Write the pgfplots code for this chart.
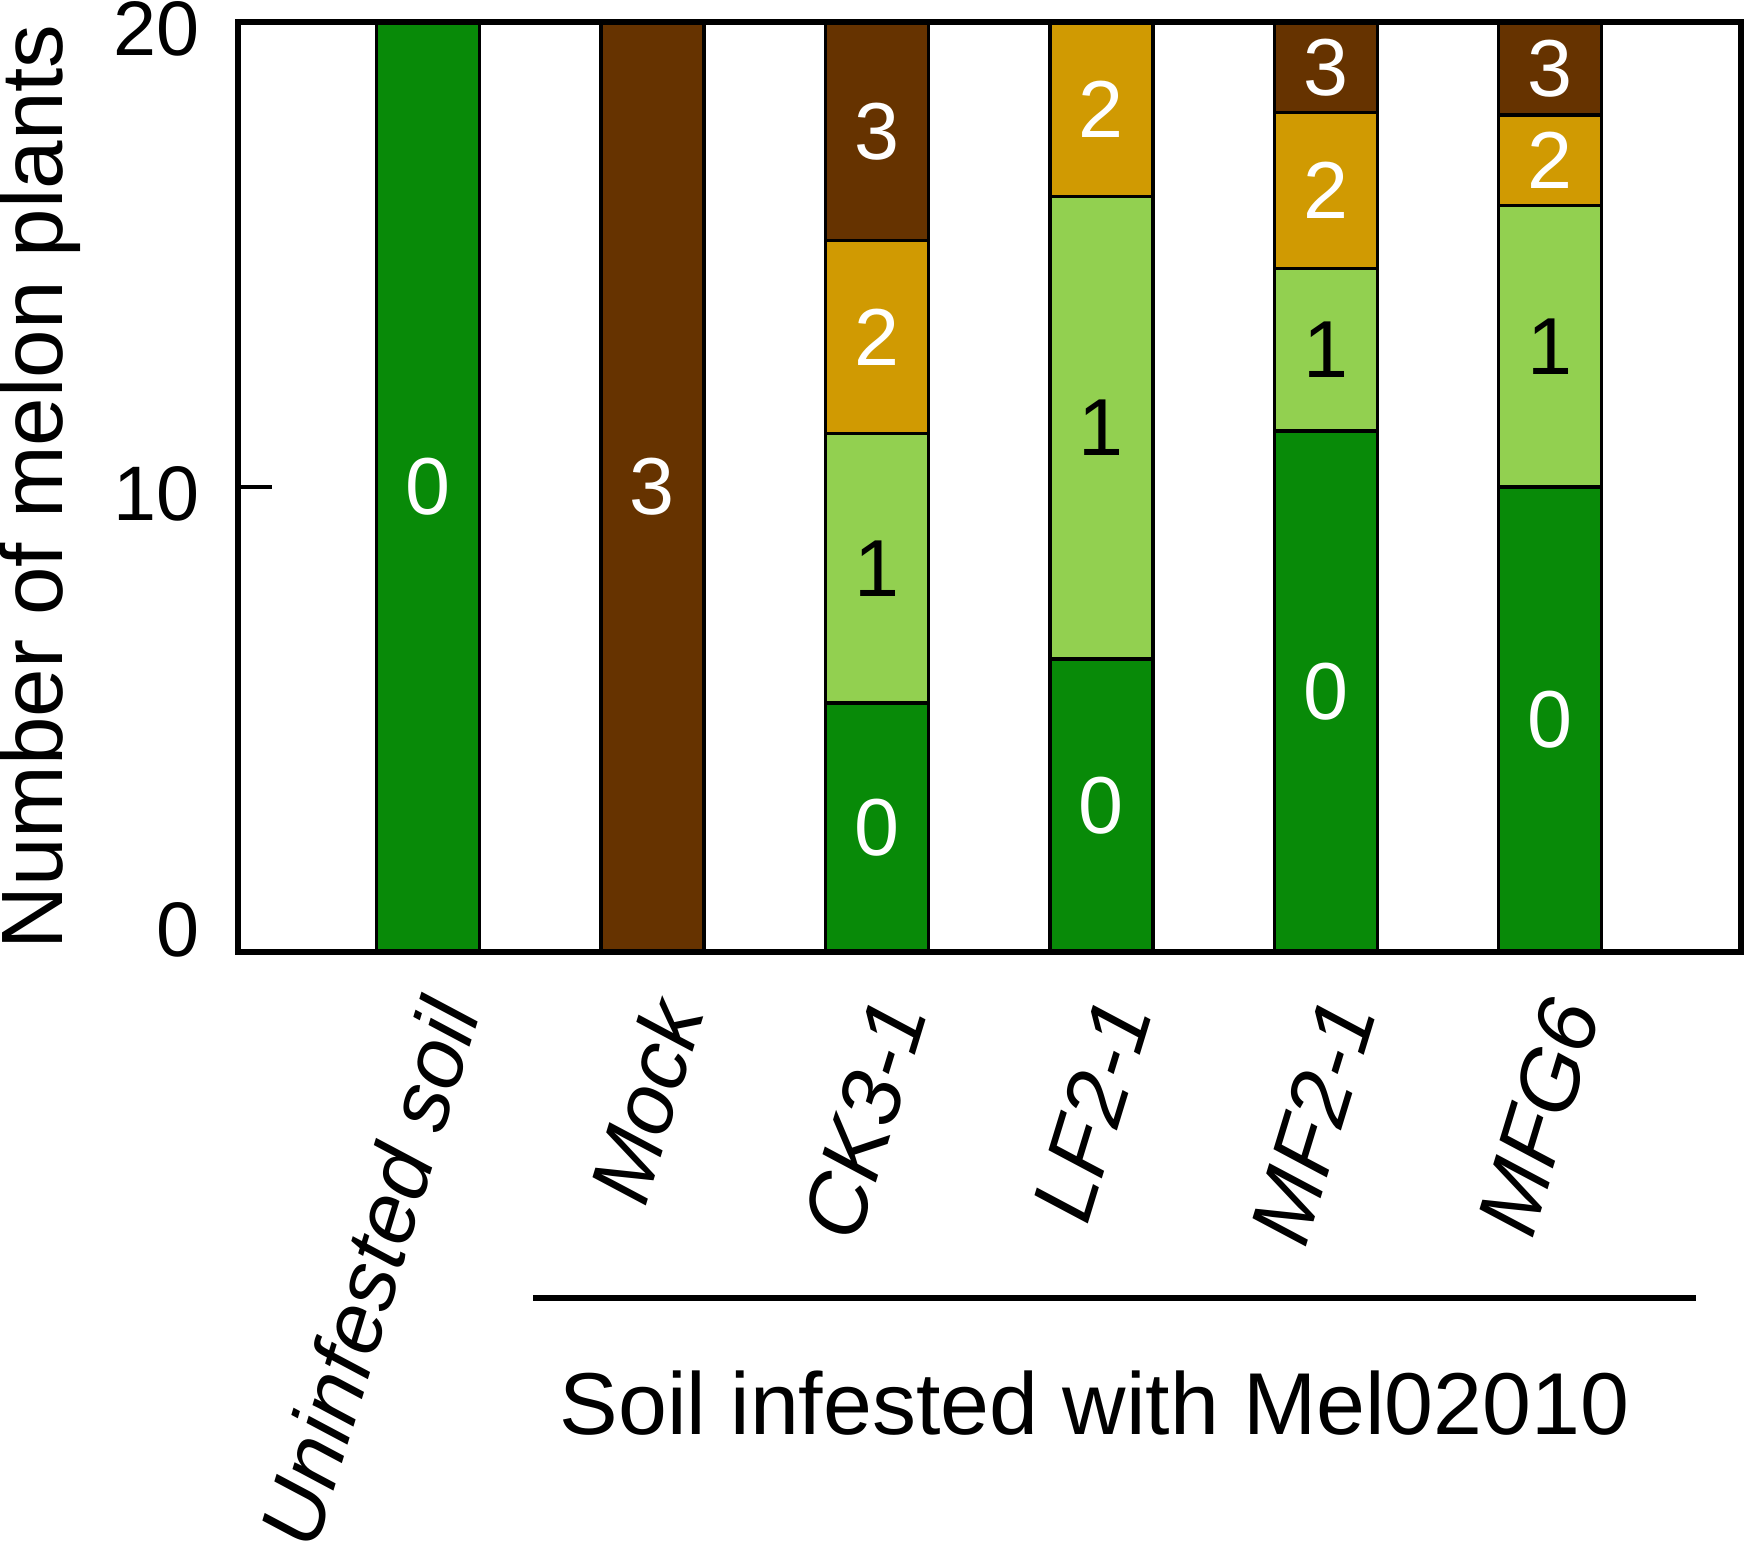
\documentclass[border=0pt]{standalone}
\usepackage{pgfplots}
\pgfplotsset{compat=1.18}
\usepackage{fontspec}
\setmainfont{Liberation Sans}
\definecolor{dgreen}{RGB}{8,138,8}
\definecolor{lgreen}{RGB}{146,208,80}
\definecolor{gold}{RGB}{208,154,2}
\definecolor{brown}{RGB}{102,51,0}
\begin{document}
\begin{tikzpicture}
\pgfplotsset{
  base/.style={
    width=15.03cm, height=9.30cm, scale only axis,
    xmin=-0.846, xmax=5.85, ymin=0, ymax=20,
  }
}
\begin{axis}[base,
  ybar stacked, bar width=1.03cm,
  axis line style={line width=1.6pt},
  axis on top,
  clip=false,
  xtick={0,1,2,3,4,5},
  xticklabels={Uninfested soil,Mock,CK3-1,LF2-1,MF2-1,MFG6},
  x tick style={draw=none},
  xticklabel style={xshift=0.27cm, yshift=-0.39cm, rotate=73, anchor=east, font=\fontsize{24.5}{29}\selectfont\itshape},
  ytick={0,10,20},
  ytick pos=left, tick align=inside,
  y tick style={line width=1.3pt, black},
  major tick length=0.34cm,
  yticklabel style={font=\fontsize{22}{26}\selectfont, xshift=-0.26cm, yshift={(\ticknum==0)*8.1pt-1.85pt}},
  /pgf/number format/assume math mode=true,
  ylabel={Number of melon plants},
  ylabel style={font=\fontsize{24.8}{30}\selectfont, at={(axis description cs:-0.1320,0.5)}, anchor=center},
  every axis plot/.append style={draw=black, line width=1pt},
]
\addplot[fill=dgreen] coordinates {(0,20) (1,0) (2,5.35) (3,6.3) (4,11.2) (5,10)};
\addplot[fill=lgreen] coordinates {(0,0) (1,0) (2,5.8) (3,9.95) (4,3.5) (5,6.05)};
\addplot[fill=gold]   coordinates {(0,0) (1,0) (2,4.15) (3,3.75) (4,3.35) (5,1.95)};
\addplot[fill=brown]  coordinates {(0,0) (1,20) (2,4.7) (3,0) (4,1.95) (5,2)};
\draw[line width=1.5pt] (axis cs:0.47,-7.44) -- (axis cs:5.65,-7.44);
\node[font=\fontsize{25}{30}\selectfont] at (axis cs:2.97,-9.7) {Soil infested with Mel02010};
\end{axis}
\begin{axis}[base, hide axis]
\addplot[only marks, mark=none, nodes near coords, point meta=explicit symbolic,
  nodes near coords style={anchor=center, text=white, font=\fontsize{23}{27}\selectfont}]
  table[meta=lab] {
x y lab
0 10 0
1 10 3
2 2.675 0
2 13.225 2
2 17.65 3
3 3.15 0
3 18.125 2
4 5.6 0
4 16.375 2
4 19.025 3
5 5 0
5 17.025 2
5 19.0 3
};
\addplot[only marks, mark=none, nodes near coords, point meta=explicit symbolic,
  nodes near coords style={anchor=center, text=black, font=\fontsize{23}{27}\selectfont}]
  table[meta=lab] {
x y lab
2 8.25 1
3 11.275 1
4 12.95 1
5 13.025 1
};
\end{axis}
\pgfresetboundingbox
\path[use as bounding box] (-2.38cm,-6.01cm) rectangle (15.12cm,9.52cm);
\end{tikzpicture}
\end{document}
